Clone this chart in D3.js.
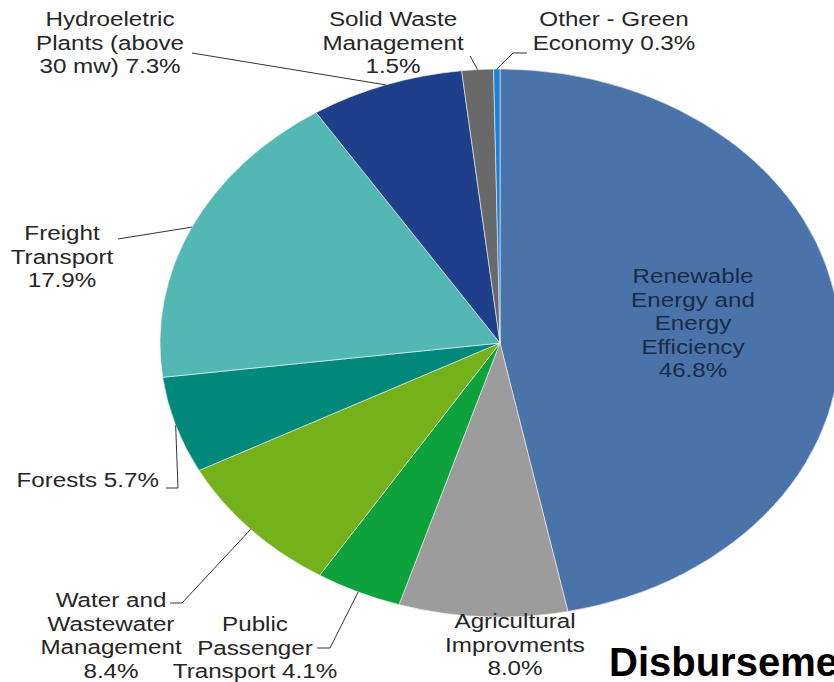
<!DOCTYPE html>
<html>
<head>
<meta charset="utf-8">
<script src="https://cdn.jsdelivr.net/npm/d3@7/dist/d3.min.js"></script>
<style>
  html, body { margin: 0; padding: 0; background: #fff; overflow: hidden; }
  svg { display: block; }
</style>
</head>
<body>
<svg id="chart" width="834" height="682"></svg>
<script>
// Green economy disbursements by sector (share of total, %)
const categories = [
  "Renewable Energy and Energy Efficiency",
  "Agricultural Improvments",
  "Public Passenger Transport",
  "Water and Wastewater Management",
  "Forests",
  "Freight Transport",
  "Hydroeletric Plants (above 30 mw)",
  "Solid Waste Management",
  "Other - Green Economy"
];
const values = [46.8, 8.0, 4.1, 8.4, 5.7, 17.9, 7.3, 1.5, 0.3];
const colors = ["#4a74a9", "#9c9c9c", "#0da23c", "#74b11b", "#00897a",
                "#53b8b3", "#1f3f8b", "#696969", "#1b80dc"];

// Label text lines for each slice (value appended from `values`)
const labelLines = [
  ["Renewable", "Energy and", "Energy", "Efficiency", "{v}"],
  ["Agricultural", "Improvments", "{v}"],
  ["Public", "Passenger", "Transport {v}"],
  ["Water and", "Wastewater", "Management", "{v}"],
  ["Forests {v}"],
  ["Freight", "Transport", "{v}"],
  ["Hydroeletric", "Plants (above", "30 mw) {v}"],
  ["Solid Waste", "Management", "{v}"],
  ["Other - Green", "Economy {v}"]
];

const title = "Disbursements";

// ---- layout ----
const cx = 500, cy = 343;     // pie centre on the page
const R = 274;                // vertical radius
const sx = 340 / 274;         // horizontal stretch of the whole figure
const fontSize = 19.5, lineH = 23.6;

// label anchor (page coords: x, first baseline, text-anchor) and leader waypoints
const labelLayout = [
  { x: 693, y: 283, anchor: "middle", color: "#1b2a47", leader: null },
  { x: 515, y: 628, anchor: "middle", leader: null },
  { x: 255, y: 631, anchor: "middle", leader: [[317, 648], [330, 648]] },
  { x: 111, y: 607, anchor: "middle", leader: [[170, 603], [182, 603]] },
  { x: 159, y: 487, anchor: "end",    leader: [[166, 488], [178, 488]] },
  { x: 62,  y: 240, anchor: "middle", leader: [[118, 239]] },
  { x: 110, y: 26,  anchor: "middle", leader: [[192, 53]] },
  { x: 393, y: 26,  anchor: "middle", leader: [[470, 56]] },
  { x: 614, y: 26,  anchor: "middle", leader: [[527, 53], [513, 53]] }
];

const svg = d3.select("#chart");

const data = categories.map((c, i) => ({ name: c, value: values[i], color: colors[i], i }));

const pie = d3.pie().value(d => d.value).sort(null)
  .startAngle(0).endAngle(2 * Math.PI);
const arcs = pie(data);
const arc = d3.arc().innerRadius(0).outerRadius(R);

// stretched drawing layer
const g = svg.append("g").attr("transform", `translate(${cx},${cy}) scale(${sx},1)`);

g.selectAll("path.slice")
  .data(arcs)
  .join("path")
  .attr("class", "slice")
  .attr("d", arc)
  .attr("fill", d => d.data.color)
  .attr("stroke", "#f4f4f4")
  .attr("stroke-width", 0.6)
  .attr("vector-effect", "non-scaling-stroke");

// page coords -> local stretched coords
const toLocal = ([x, y]) => [(x - cx) / sx, y - cy];

// leader lines: label-side waypoints then the slice's outer edge at mid-angle
const line = d3.line();
arcs.forEach((a, i) => {
  const lay = labelLayout[i];
  if (!lay.leader) return;
  const mid = (a.startAngle + a.endAngle) / 2;
  const edge = [R * Math.sin(mid), -R * Math.cos(mid)];
  const pts = lay.leader.map(toLocal).concat([edge]);
  g.append("path")
    .attr("d", line(pts))
    .attr("fill", "none")
    .attr("stroke", "#333")
    .attr("stroke-width", 1)
    .attr("vector-effect", "non-scaling-stroke");
});

// labels (drawn in the stretched layer so they share its aspect)
arcs.forEach((a, i) => {
  const lay = labelLayout[i];
  const [lx, ly] = toLocal([lay.x, lay.y]);
  const vText = d3.format(".1f")(a.data.value) + "%";
  const t = g.append("text")
    .attr("x", lx).attr("y", ly)
    .attr("text-anchor", lay.anchor)
    .attr("font-family", "Liberation Sans, Arial, sans-serif")
    .attr("font-size", fontSize)
    .attr("fill", lay.color || "#262626");
  labelLines[i].forEach((ln, k) => {
    t.append("tspan")
      .attr("x", lx)
      .attr("dy", k === 0 ? 0 : lineH)
      .text(ln.replace("{v}", vText));
  });
});

// title (runs on past the right edge of the page)
svg.append("text")
  .attr("x", 609).attr("y", 676)
  .attr("font-family", "Liberation Sans, Arial, sans-serif")
  .attr("font-weight", "bold")
  .attr("font-size", 40)
  .attr("fill", "#000")
  .text(title);
</script>
</body>
</html>
